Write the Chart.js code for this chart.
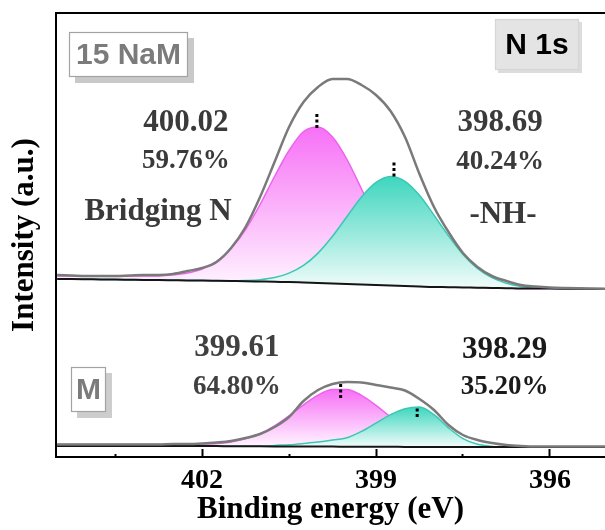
<!DOCTYPE html>
<html><head><meta charset="utf-8">
<script src="https://cdn.jsdelivr.net/npm/chart.js@4.4.0/dist/chart.umd.min.js"></script>
<style>html,body{margin:0;padding:0;background:#fff;overflow:hidden}</style>
</head><body>
<canvas id="c" width="605" height="530"></canvas>
<script>
// ---------- data ----------
const energies = [404.5,404.25,404.0,403.75,403.5,403.25,403.0,402.75,402.5,402.25,402.0,401.75,401.5,401.25,401.0,400.75,400.5,400.25,400.0,399.75,399.5,399.25,399.0,398.75,398.5,398.25,398.0,397.75,397.5,397.25,397.0,396.75,396.5,396.25,396.0,395.75,395.5,395.25,395.0];

const upperEnvelope = [182,181.5,181,181,181,181.5,182,182,183,186,189,195,209,230,260,295,330,355,370,378,378,372,362,346,320,283,250,225,204,190,181,176,172,170.5,169.5,169,168.7,168.5,168.3];
const upperBridgingN = [181,181,181,181,181,181,181,181.1,182.2,184.1,188,195.6,208.5,227.5,252.5,280.5,306.5,325.5,330,320,297.5,268,239.3,213.8,195.5,183.2,175.9,172.1,170.3,169.4,169,168.8,168.5,168.5,168.4,168.3,168.2,168.1,168];
const upperNH = [178,178,177.8,177.5,177.4,177.2,177,176.9,176.7,176.5,176.4,176.3,176.2,176.5,177.3,179.4,183.9,191.6,203.9,220.7,240.5,260,274.6,280.5,275.7,261.7,241.9,221.1,202.6,188.7,179.3,173.7,170.6,169.3,168.7,168.4,168.2,168.1,168];
const upperBackground = [178,178,177.8,177.5,177.4,177.2,177,176.9,176.7,176.5,176.4,176.2,176,175.8,175.5,175.2,175,174.5,174,173.5,173,172.5,172,171.5,171,170.5,170,169.8,169.5,169.3,169,168.8,168.5,168.5,168.4,168.3,168.2,168.1,168];

const lowerEnvelope = [12.5,12.5,12.5,12.5,12.5,12.5,12.5,12.5,13,13,13.5,14.5,16,19,23,30,40,56,67,73,75,74.5,72,69.5,66.5,58,47,32,22,17,14,12,11,10.5,10.5,10.5,10.5,10.5,10.5];
const lowerBridgingN = [12.5,12.5,12.5,12.5,12.5,12.5,12.5,12.5,12.5,12.6,12.9,13.6,15.1,18.1,23.2,31,41.1,52.2,61.9,67.6,67.5,61.6,51.6,40.1,29.6,21.4,15.9,12.7,11.1,10.4,10.1,10,10,10,10,10,10,10,10];
const lowerNH = [11,11,11,11,11,11,11,11,11,11,10.9,10.9,10.8,10.8,10.7,11.6,12.3,13.5,14.9,16.9,19.3,25.6,33.9,42.3,48.3,50,42.3,29.2,18.4,12.7,10.6,10.1,10,10,10,10,10,10,10];
const lowerBackground = [11,11,11,11,11,11,11,11,11,11,10.9,10.9,10.8,10.8,10.7,10.6,10.5,10.5,10.4,10.4,10.3,10.3,10.2,10.2,10.1,10.1,10,10,10,10,10,10,10,10,10,10,10,10,10];

const upperPeakEnergies = [400.02, 398.69];
const lowerPeakEnergies = [399.61, 398.29];
const upperPercents = [59.76, 40.24];
const lowerPercents = [64.80, 35.20];
const componentNames = ['Bridging N', '-NH-'];
const sampleNames = ['15 NaM', 'M'];
const coreLevel = 'N 1s';
const xTickValues = [403.5, 402, 400.5, 399, 397.5, 396];
const xTickLabels = ['', '402', '', '399', '', '396'];

// ---------- helpers ----------
const pts = arr => energies.map((e, i) => ({x: e, y: arr[i]}));
function grad(arr, topColor, bottomColor) {
  return (ctx) => {
    const chart = ctx.chart;
    if (!chart.chartArea) return topColor;
    const y = chart.scales.y;
    const t = y.getPixelForValue(Math.max(...arr));
    const b = y.getPixelForValue(Math.min(...arr));
    const g = chart.ctx.createLinearGradient(0, t, 0, b + 0.01);
    g.addColorStop(0, topColor);
    g.addColorStop(1, bottomColor);
    return g;
  };
}
function marker(center, arr, span) {
  const top = Math.max(...arr);
  return [{x: center, y: top + span[0]}, {x: center, y: top + span[1]}];
}
const PINK_TOP = 'rgb(247,112,246)', PINK_BOT = 'rgb(255,246,255)';
const TEAL_TOP = 'rgb(62,214,190)', TEAL_BOT = 'rgb(242,252,250)';
const common = {pointRadius: 0, pointHoverRadius: 0, cubicInterpolationMode: 'monotone'};

const datasets = [
  {...common, label: 'upper background', data: pts(upperBackground), borderColor: '#151515', borderWidth: 2, fill: false, order: 5},
  {...common, label: 'upper Bridging N', data: pts(upperBridgingN), borderColor: 'rgb(236,100,236)', borderWidth: 1.5,
    backgroundColor: grad(upperBridgingN, PINK_TOP, PINK_BOT), fill: {target: 0}, order: 8},
  {...common, label: 'upper -NH-', data: pts(upperNH), borderColor: 'rgb(58,200,180)', borderWidth: 1.5,
    backgroundColor: grad(upperNH, TEAL_TOP, TEAL_BOT), fill: {target: 0}, order: 7},
  {...common, label: 'upper envelope', data: pts(upperEnvelope), borderColor: 'rgb(122,122,122)', borderWidth: 2.5, fill: false, order: 3},
  {...common, label: 'lower background', data: pts(lowerBackground), borderColor: '#151515', borderWidth: 2, fill: false, order: 5},
  {...common, label: 'lower Bridging N', data: pts(lowerBridgingN), borderColor: 'rgb(236,100,236)', borderWidth: 1.5,
    backgroundColor: grad(lowerBridgingN, PINK_TOP, PINK_BOT), fill: {target: 4}, order: 8},
  {...common, label: 'lower -NH-', data: pts(lowerNH), borderColor: 'rgb(58,200,180)', borderWidth: 1.5,
    backgroundColor: grad(lowerNH, TEAL_TOP, TEAL_BOT), fill: {target: 4}, order: 7},
  {...common, label: 'lower envelope', data: pts(lowerEnvelope), borderColor: 'rgb(122,122,122)', borderWidth: 2.5, fill: false, order: 3},
];
const markerSpans = [[-1, 14], [0, 14], [-8.6, 5.4], [-10, 1]];
[[upperPeakEnergies[0], upperBridgingN], [upperPeakEnergies[1], upperNH],
 [lowerPeakEnergies[0], lowerBridgingN], [lowerPeakEnergies[1], lowerNH]].forEach(([c, arr], k) => {
  datasets.push({label: 'marker', data: marker(c, arr, markerSpans[k]), borderColor: '#000', borderWidth: 3,
    borderDash: [3, 2.5], borderCapStyle: 'butt', pointRadius: 0, fill: false, tension: 0, order: 1});
});

// ---------- text & boxes ----------
const SERIF = "'Liberation Serif', 'Times New Roman', serif";
const SANS = "'Liberation Sans', Arial, sans-serif";
const textItems = [
  {t: upperPeakEnergies[0].toFixed(2), x: 402.28, y: 334, size: 31, color: '#3a3a3a'},
  {t: upperPercents[0].toFixed(2) + '%', x: 402.28, y: 296, size: 27, color: '#3a3a3a'},
  {t: componentNames[0], x: 402.76, y: 245, size: 31, color: '#3a3a3a'},
  {t: upperPeakEnergies[1].toFixed(2), x: 396.86, y: 334, size: 31, color: '#3a3a3a'},
  {t: upperPercents[1].toFixed(2) + '%', x: 396.86, y: 295, size: 27, color: '#3a3a3a'},
  {t: componentNames[1], x: 396.81, y: 242, size: 31, color: '#3a3a3a'},
  {t: lowerPeakEnergies[0].toFixed(2), x: 401.40, y: 109, size: 31, color: '#404040'},
  {t: lowerPercents[0].toFixed(2) + '%', x: 401.40, y: 70, size: 27, color: '#404040'},
  {t: lowerPeakEnergies[1].toFixed(2), x: 396.78, y: 107, size: 31, color: '#1a1a1a'},
  {t: lowerPercents[1].toFixed(2) + '%', x: 396.78, y: 70, size: 27, color: '#1a1a1a'},
];
const boxes = [
  {t: sampleNames[0], x: 69, y: 32, w: 119, h: 45, fill: '#ffffff', stroke: '#a3a3a3', shadow: '#c9c9c9', sh: 6, color: '#7b7b7b'},
  {t: coreLevel, x: 495, y: 19, w: 84, h: 51, fill: '#e4e4e4', stroke: '#d6d6d6', shadow: '#dcdcdc', sh: 3, color: '#000000'},
  {t: sampleNames[1], x: 71, y: 367, w: 35, h: 45, fill: '#ffffff', stroke: '#a3a3a3', shadow: '#cdcdcd', sh: 6, color: '#7b7b7b'},
];
const annotPlugin = {
  id: 'annot',
  afterDatasetsDraw(chart) {
    const {ctx, scales: {x, y}} = chart;
    ctx.save();
    ctx.textAlign = 'center';
    ctx.textBaseline = 'middle';
    textItems.forEach(it => {
      ctx.font = `bold ${it.size}px ${SERIF}`;
      ctx.fillStyle = it.color;
      ctx.fillText(it.t, x.getPixelForValue(it.x), y.getPixelForValue(it.y));
    });
    boxes.forEach(b => {
      ctx.fillStyle = b.shadow;
      ctx.fillRect(b.x + b.sh, b.y + b.sh, b.w, b.h);
      ctx.fillStyle = b.fill;
      ctx.fillRect(b.x, b.y, b.w, b.h);
      ctx.strokeStyle = b.stroke;
      ctx.lineWidth = 1.2;
      ctx.strokeRect(b.x + 0.5, b.y + 0.5, b.w - 1, b.h - 1);
      ctx.font = `bold 30px ${SANS}`;
      ctx.fillStyle = b.color;
      ctx.fillText(b.t, b.x + b.w / 2, b.y + b.h / 2 + 1);
    });
    ctx.restore();
  }
};

new Chart(document.getElementById('c'), {
  type: 'line',
  data: {datasets},
  options: {
    responsive: false,
    animation: false,
    devicePixelRatio: 1,
    layout: {padding: {top: 13, left: 0, right: 0, bottom: 0}},
    plugins: {legend: {display: false}, tooltip: {enabled: false}},
    scales: {
      x: {
        type: 'linear', position: 'bottom', reverse: true, min: 395.05, max: 404.52,
        afterBuildTicks: s => { s.ticks = xTickValues.map(v => ({value: v})); },
        afterFit: s => { s.height = 73; },
        ticks: {autoSkip: false, maxRotation: 0, padding: 15, color: '#000',
          font: {family: SERIF, size: 28, weight: 'bold'},
          callback: (v, i) => xTickLabels[i]},
        grid: {display: true, drawOnChartArea: false, drawTicks: true, tickLength: -8, tickWidth: 2, tickColor: '#000',
          tickBorderDash: c => (xTickLabels[c.index] === '' ? [4, 40] : [])},
        border: {display: true, color: '#000', width: 2},
        title: {display: true, text: 'Binding energy (eV)', color: '#000',
          font: {family: SERIF, size: 31, weight: 'bold'}, padding: {top: 0, bottom: 1}}
      },
      x2: {
        type: 'linear', position: 'top', display: true,
        afterFit: s => { s.height = 0; },
        ticks: {display: false}, grid: {display: false, drawTicks: false},
        border: {display: true, color: '#000', width: 2}
      },
      y: {
        type: 'linear', position: 'left', min: 0, max: 444,
        afterFit: s => { s.width = 56; },
        ticks: {display: false}, grid: {display: false, drawTicks: false},
        border: {display: true, color: '#000', width: 2},
        title: {display: true, text: 'Intensity (a.u.)', color: '#000',
          font: {family: SERIF, size: 31, weight: 'bold'}, padding: {top: 6, bottom: 0}}
      }
    }
  },
  plugins: [annotPlugin]
});
</script>
</body></html>
